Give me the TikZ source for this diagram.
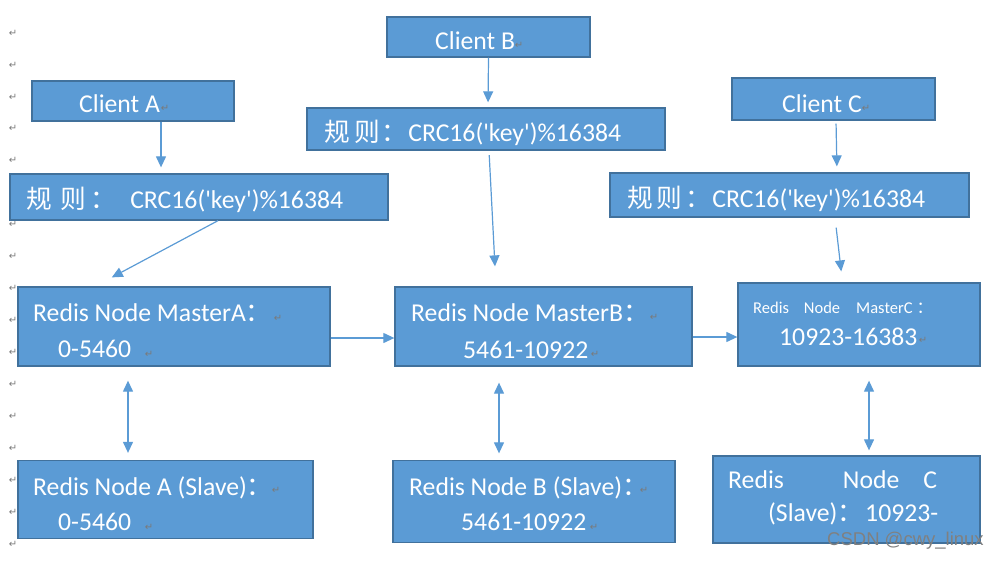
\documentclass[tikz,border=0pt]{standalone}
\usepackage{fontspec}
\setmainfont{Carlito}
\newfontfamily\cjk{Noto Sans CJK SC}
\newfontfamily\symfont{DejaVu Sans}
\newfontfamily\wmfont{Liberation Sans}
\usetikzlibrary{arrows.meta}
\definecolor{boxblue}{HTML}{5B9BD5}
\definecolor{boxedge}{HTML}{41719C}
\definecolor{markgray}{HTML}{7A7A7A}
\newcommand{\crcrule}{CRC16(\textquotesingle key\textquotesingle)\%16384}
\newcommand{\wcolon}{\makebox[9pt][l]{\cjk ：}}

\begin{document}
\begin{tikzpicture}[x=1pt,y=-1pt,
	box/.style={draw=boxedge, line width=1.3pt, fill=boxblue, inner sep=0pt},
	txt/.style={text=white, inner sep=0pt, anchor=base west, font=\fontsize{25.7}{30}\selectfont},
	smalltxt/.style={text=white, inner sep=0pt, anchor=base west, font=\fontsize{16.5}{20}\selectfont},
	retmark/.style={text=markgray, inner sep=0pt, font=\symfont\fontsize{10}{10}\selectfont},
	link/.style={draw=boxblue, line width=1.2pt, -{Triangle[width=10pt,length=11pt]}},
	twoway/.style={link, {Triangle[width=10pt,length=11pt]}-{Triangle[width=10pt,length=11pt]}}]
	
	\useasboundingbox (0,0) rectangle (1001,560);
	
	% paragraph marks down the margin
	\foreach \k in {0,...,16}
		\node[retmark] (m\k) at (13,{33+31.94*\k}) {↵};
	
	% clients
	\node[box, minimum width=202pt, minimum height=40pt] (clientA) at (133,101) {};
	\node[box, minimum width=203pt, minimum height=40pt] (clientB) at (488.5,37) {};
	\node[box, minimum width=203pt, minimum height=42pt] (clientC) at (833.5,99) {};
	
	% rules
	\node[box, minimum width=378pt, minimum height=46pt] (ruleA) at (199,197) {};
	\node[box, minimum width=358pt, minimum height=42pt] (ruleB) at (486,129) {};
	\node[box, minimum width=359pt, minimum height=44pt] (ruleC) at (789.5,195) {};
	
	% masters and slaves
	\node[box, minimum width=312pt, minimum height=79pt] (masterA) at (174,326.5) {};
	\node[box, minimum width=297pt, minimum height=79pt] (masterB) at (543.5,326.5) {};
	\node[box, minimum width=242pt, minimum height=83pt] (masterC) at (859,324.5) {};
	\node[box, minimum width=295pt, minimum height=78pt] (slaveA) at (165.5,499.5) {};
	\node[box, minimum width=282pt, minimum height=82pt] (slaveB) at (534,501.5) {};
	\node[box, minimum width=267pt, minimum height=87pt] (slaveC) at (846.5,499.5) {};
	
	% texts
	\node[txt] (tCA) at (79,112.7) {Client A};
	\node[txt] (tCB) at (435,49) {Client B};
	\node[txt] (tCC) at (782,112) {Client C};
	\node[txt] (tRA) at (26,208) {{\cjk 规\hspace{9pt}则\hspace{4pt}：}\hspace{14pt}\crcrule};
	\node[txt] (tRB) at (324,141.5) {{\cjk 规\hspace{5pt}则\hspace{1pt}：}\hspace{1pt}\crcrule};
	\node[txt] (tRC) at (627,207) {{\cjk 规\hspace{4pt}则\hspace{3pt}：}\hspace{1pt}\crcrule};
	
	\node[txt] (tMA1) at (33,321.5) {Redis Node MasterA\wcolon};
	\node[txt] (tMA2) at (58,357.5) {0-5460};
	\node[txt] (tMB1) at (411,321.5) {Redis Node MasterB\wcolon};
	\node[txt] (tMB2) at (463,358) {5461-10922};
	\node[smalltxt] (tMC1) at (753,313) {Redis\hspace{15pt}Node\hspace{16pt}MasterC\hspace{4pt}{\cjk ：}};
	\node[txt] (tMC2) at (779,345) {10923-16383};
	
	\node[txt] (tSA1) at (33,495) {Redis Node A (Slave)\wcolon};
	\node[txt] (tSA2) at (58,530) {0-5460};
	\node[txt] (tSB1) at (409,495) {Redis Node B (Slave)\wcolon};
	\node[txt] (tSB2) at (461,530.5) {5461-10922};
	\node[txt] (tSC1) at (728,488) {Redis\hspace{59pt}Node\hspace{24pt}C};
	\node[txt] (tSC2) at (768,521.5) {(Slave){\cjk ：}\hspace{2pt}10923-};
	
	% paragraph marks in the boxes
	\node[retmark] (rCA) at (165,108) {↵};
	\node[retmark] (rCB) at (519,45) {↵};
	\node[retmark] (rCC) at (866,108) {↵};
	\node[retmark] (rMA1) at (278,318) {↵};
	\node[retmark] (rMA2) at (149,354) {↵};
	\node[retmark] (rMB1) at (654,317) {↵};
	\node[retmark] (rMB2) at (595,354) {↵};
	\node[retmark] (rMC2) at (923,340) {↵};
	\node[retmark] (rSA1) at (276,490) {↵};
	\node[retmark] (rSA2) at (149,527) {↵};
	\node[retmark] (rSB1) at (644,490) {↵};
	\node[retmark] (rSB2) at (594,527) {↵};
	
	% client -> rule -> master
	\draw[link, shorten >=6pt] ([xshift=28pt]clientA.south) -- ([xshift=-38pt]ruleA.north);
	\draw[link, shorten >=5pt] (clientB.south) -- ([xshift=2pt]ruleB.north);
	\draw[link, shorten <=3pt, shorten >=6pt] ([xshift=2.5pt]clientC.south) -- ([xshift=47.5pt]ruleC.north);
	\draw[link, shorten >=19pt] ([xshift=19pt]ruleA.south) -- ([xshift=-79pt]masterA.north);
	\draw[link, shorten <=4.5pt, shorten >=20pt] ([xshift=3pt]ruleB.south) -- ([xshift=-47.5pt]masterB.north);
	\draw[link, shorten <=10pt, shorten >=11pt] ([xshift=45.5pt]ruleC.south) -- ([xshift=-16.5pt]masterC.north);
	
	% master -> master
	\draw[link] ([yshift=-11.5pt]masterA.east) -- ([yshift=-11.5pt]masterB.west);
	\draw[link] ([yshift=-10.5pt]masterB.east) -- ([yshift=-12.5pt]masterC.west);
	
	% master <-> slave
	\draw[twoway, shorten <=14pt, shorten >=7pt] ([xshift=-46pt]masterA.south) -- ([xshift=-37.5pt]slaveA.north);
	\draw[twoway, shorten <=16pt, shorten >=6.5pt] ([xshift=-44.5pt]masterB.south) -- ([xshift=-35pt]slaveB.north);
	\draw[twoway, shorten <=14pt, shorten >=5pt] ([xshift=10pt]masterC.south) -- ([xshift=22.5pt]slaveC.north);
	
	% watermark
	\node[anchor=base west, inner sep=0pt, text=black!50, font=\wmfont\fontsize{18.5}{20}\selectfont] (wm) at (827,545) {CSDN @cwy\_linux};
\end{tikzpicture}
\end{document}
